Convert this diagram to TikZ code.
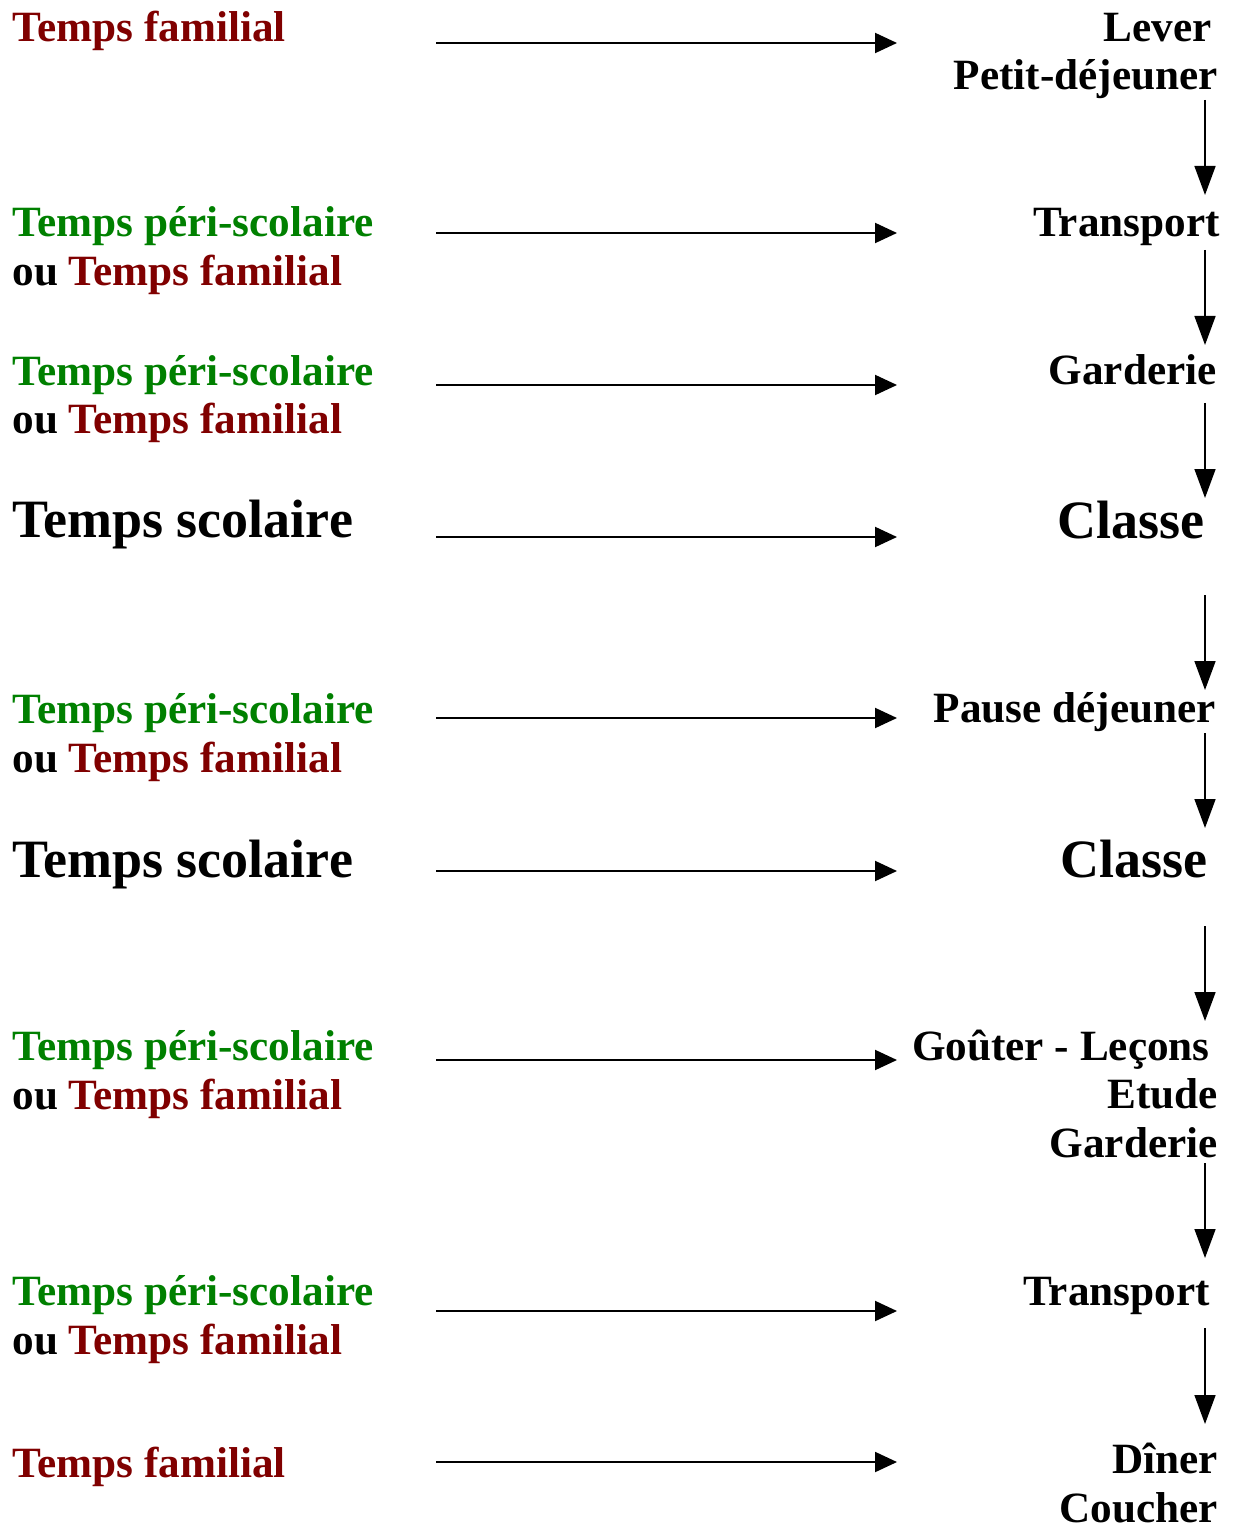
\documentclass[tikz,border=0pt]{standalone}
\usepackage{fontspec}
\setmainfont{Liberation Serif}
\usetikzlibrary{arrows.meta}
\definecolor{familial}{RGB}{128,0,0}
\definecolor{periscol}{RGB}{0,128,0}
\tikzset{%
    tempslabel/.style={anchor=base west, inner sep=0pt, align=left,
        font=\bfseries\fontsize{21.6}{24.5}\selectfont},
    bigtemps/.style={tempslabel, font=\bfseries\fontsize{27}{30}\selectfont},
    activite/.style={anchor=base east, inner sep=0pt, align=right,
        font=\bfseries\fontsize{21.6}{24.1}\selectfont},
    bigactivite/.style={activite, font=\bfseries\fontsize{27}{30}\selectfont},
    harrow/.style={-{Triangle[length=11pt,width=10pt]}, line width=1pt},
    varrow/.style={-{Triangle[length=14.5pt,width=10.5pt]}, line width=0.8pt}
}
% les noeuds sur deux lignes sont places sur la ligne de base de la derniere ligne
\newcommand{\peri}{{\color{periscol}Temps péri-scolaire}\\ ou {\color{familial}Temps familial}}

\begin{document}
\begin{tikzpicture}[x=0.5pt,y=-0.5pt]
    \useasboundingbox (0,0) rectangle (1232,1529);
    % temps (colonne de gauche)
    \node[tempslabel] (temps1) at (12,42) {\color{familial}Temps familial};
    \node[tempslabel] (temps2) at (12,286) {\peri};
    \node[tempslabel] (temps3) at (12,434) {\peri};
    \node[bigtemps] (temps4) at (12,537) {Temps scolaire};
    \node[tempslabel] (temps5) at (12,772) {\peri};
    \node[bigtemps] (temps6) at (12,877) {Temps scolaire};
    \node[tempslabel] (temps7) at (12,1109) {\peri};
    \node[tempslabel] (temps8) at (12,1354) {\peri};
    \node[tempslabel] (temps9) at (12,1477) {\color{familial}Temps familial};
    % activites (colonne de droite)
    \node[activite] (act1) at (1218,90) {Lever\hspace*{3pt}\\ Petit-déjeuner};
    \node[activite] (act2) at (1220,237) {Transport};
    \node[activite] (act3) at (1217,385) {Garderie};
    \node[bigactivite] (act4) at (1205,538) {Classe};
    \node[activite] (act5) at (1216,722) {Pause déjeuner};
    \node[bigactivite] (act6) at (1208,877) {Classe};
    \node[activite] (act7) at (1218,1157) {Goûter - Leçons\hspace*{4pt}\\ Etude\\ Garderie};
    \node[activite] (act8) at (1210,1305) {Transport};
    \node[activite] (act9) at (1218,1522) {Dîner\\ Coucher};
    % fleches horizontales
    \draw[harrow] (436,43) coordinate (h1) -- (897,43) coordinate (k1);
    \draw[harrow] (436,233) coordinate (h2) -- (897,233) coordinate (k2);
    \draw[harrow] (436,385) coordinate (h3) -- (897,385) coordinate (k3);
    \draw[harrow] (436,537) coordinate (h4) -- (897,537) coordinate (k4);
    \draw[harrow] (436,718) coordinate (h5) -- (897,718) coordinate (k5);
    \draw[harrow] (436,871) coordinate (h6) -- (897,871) coordinate (k6);
    \draw[harrow] (436,1060) coordinate (h7) -- (897,1060) coordinate (k7);
    \draw[harrow] (436,1311) coordinate (h8) -- (897,1311) coordinate (k8);
    \draw[harrow] (436,1462) coordinate (h9) -- (897,1462) coordinate (k9);
    % fleches verticales
    \draw[varrow] (1205,100) coordinate (v1) -- (1205,195) coordinate (w1);
    \draw[varrow] (1205,250) coordinate (v2) -- (1205,345) coordinate (w2);
    \draw[varrow] (1205,403) coordinate (v3) -- (1205,498) coordinate (w3);
    \draw[varrow] (1205,595) coordinate (v4) -- (1205,690) coordinate (w4);
    \draw[varrow] (1205,733) coordinate (v5) -- (1205,828) coordinate (w5);
    \draw[varrow] (1205,926) coordinate (v6) -- (1205,1021) coordinate (w6);
    \draw[varrow] (1205,1163) coordinate (v7) -- (1205,1258) coordinate (w7);
    \draw[varrow] (1205,1328) coordinate (v8) -- (1205,1424) coordinate (w8);
\end{tikzpicture}
\end{document}
